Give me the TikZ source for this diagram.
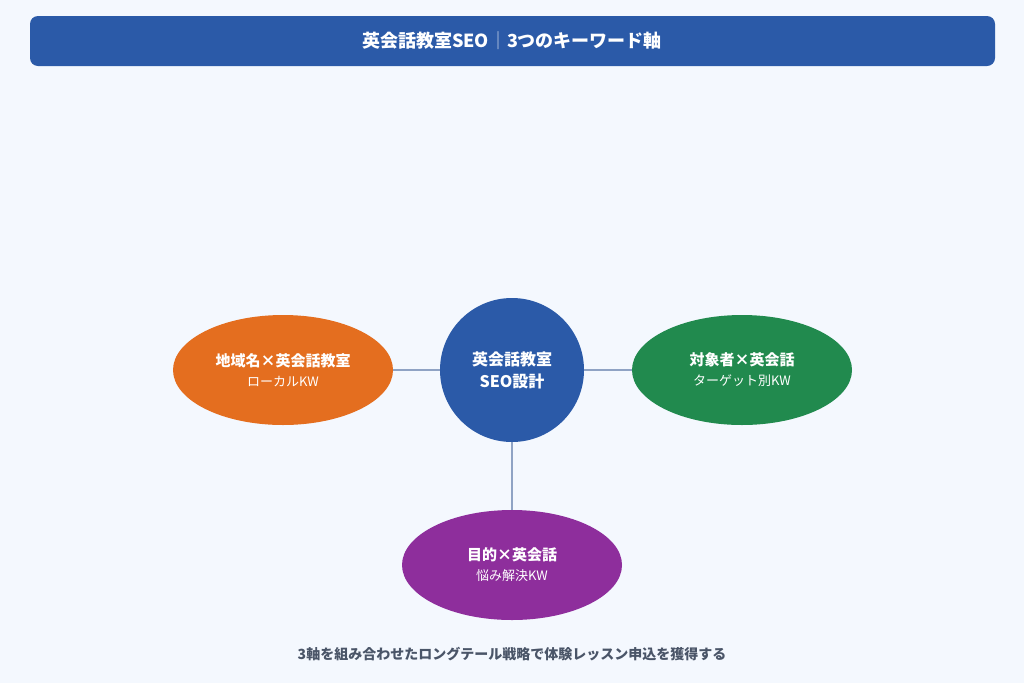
\documentclass[tikz,border=0pt]{standalone}
\usepackage{fontspec}
\setmainfont{Noto Sans CJK JP}
\usetikzlibrary{shapes.geometric}
\definecolor{bgc}{HTML}{F4F8FE}
\definecolor{hub}{HTML}{2B5AA8}
\definecolor{local}{HTML}{E46E1F}
\definecolor{target}{HTML}{218A4E}
\definecolor{purpose}{HTML}{8E2E9C}
\definecolor{link}{HTML}{8FA3C4}
\definecolor{note}{HTML}{4A5568}
\newcommand\subline[1]{{\mdseries\fontsize{13pt}{16pt}\selectfont #1}}
\tikzset{
  axis/.style={ellipse,minimum width=220pt,minimum height=110pt,text=white,align=center,font=\bfseries\fontsize{15pt}{20pt}\selectfont},
}
\begin{document}
\begin{tikzpicture}[x=1pt,y=-1pt]
  \fill[bgc] (0,0) rectangle (1024,683);
  \useasboundingbox (0,0) rectangle (1024,683);
  % title
  \fill[hub,rounded corners=8pt] (30,16) rectangle (995,66);
  \node[text=white,font=\bfseries\fontsize{18pt}{22pt}\selectfont] (title) at (512,41)
    {英会話教室SEO{\color{white!60!hub}｜}3つのキーワード軸};
  % axes
  \node[axis,fill=local] (loc) at (283,370) {地域名×英会話教室\\\subline{ローカルKW}};
  \node[axis,fill=target] (tgt) at (742,370) {対象者×英会話\\\subline{ターゲット別KW}};
  \node[axis,fill=purpose] (pur) at (512,565) {目的×英会話\\\subline{悩み解決KW}};
  \node[circle,fill=hub,minimum size=144pt,text=white,align=center,
    font=\bfseries\fontsize{16pt}{22pt}\selectfont] (hubn) at (512,370) {英会話教室\\SEO設計};
  \draw[link,line width=2pt] (hubn) -- (loc);
  \draw[link,line width=2pt] (hubn) -- (tgt);
  \draw[link,line width=2pt] (hubn) -- (pur);
  % footer
  \node[text=note,font=\bfseries\fontsize{14pt}{18pt}\selectfont] (foot) at (512,654)
    {3軸を組み合わせたロングテール戦略で体験レッスン申込を獲得する};
\end{tikzpicture}
\end{document}
